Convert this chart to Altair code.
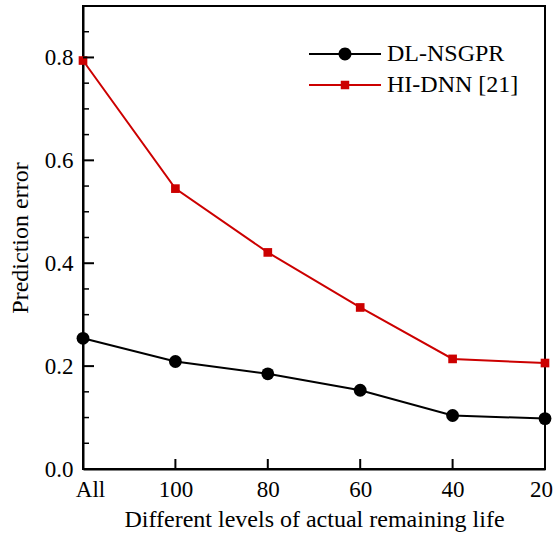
import altair as alt
import pandas as pd

levels = ["All", "100", "80", "60", "40", "20"]
series_names = ["DL-NSGPR", "HI-DNN [21]"]
dl_nsgpr = [0.254, 0.209, 0.185, 0.153, 0.104, 0.098]
hi_dnn = [0.794, 0.545, 0.421, 0.314, 0.214, 0.206]
colors = ["#000000", "#cc0000"]
y_major = [0.0, 0.2, 0.4, 0.6, 0.8]
y_minor = [0.05, 0.1, 0.15, 0.25, 0.3, 0.35, 0.45, 0.5, 0.55, 0.65, 0.7, 0.75, 0.85]

rows = []
for lv, a, b in zip(levels, dl_nsgpr, hi_dnn):
    rows.append({"level": lv, "series": series_names[0], "err": a})
    rows.append({"level": lv, "series": series_names[1], "err": b})
df = pd.DataFrame(rows)

FONT = "Liberation Serif"
FS = 24
LFS = 23
W, H = 462, 463

xscale = alt.Scale(type="point", domain=levels, padding=0)
yscale = alt.Scale(domain=[0, 0.9], nice=False)
cscale = alt.Scale(domain=series_names, range=colors)

x_enc = alt.X("level:N", scale=xscale, sort=levels,
              axis=alt.Axis(title="Different levels of actual remaining life", labelAngle=0,
                            ticks=False, labelPadding=9, titlePadding=6,
                            labelFont=FONT, labelFontSize=LFS, labelColor="black",
                            labelOffset={"expr": "datum.value == 'All' ? 7 : (datum.value == '20' ? -4 : 0)"},
                            titleFont=FONT, titleFontSize=FS,
                            domainColor="black", domainWidth=2, grid=False))
y_enc = alt.Y("err:Q", scale=yscale,
              axis=alt.Axis(title="Prediction error", values=y_major, format=".1f",
                            ticks=False, labelPadding=10, titlePadding=12,
                            labelFont=FONT, labelFontSize=LFS, labelColor="black",
                            titleFont=FONT, titleFontSize=FS,
                            domainColor="black", domainWidth=2, grid=False))

base = alt.Chart(df)

lines = base.mark_line(strokeWidth=2).encode(
    x=x_enc, y=y_enc,
    color=alt.Color("series:N", scale=cscale, legend=None),
    detail="series:N",
)

pts = base.mark_point(filled=True, opacity=1).encode(
    x=alt.X("level:N", scale=xscale, sort=levels),
    y=alt.Y("err:Q", scale=yscale),
    color=alt.Color("series:N", scale=cscale, legend=None),
    shape=alt.Shape("series:N", scale=alt.Scale(domain=series_names, range=["circle", "square"]), legend=None),
    size=alt.Size("series:N", scale=alt.Scale(domain=series_names, range=[165, 75]), legend=None),
)

bar = "M-4,-0.1L4,-0.1L4,0.1L-4,0.1Z"
leg_paths = [
    bar + "M-0.72,0A0.72,0.72 0 1,1 0.72,0A0.72,0.72 0 1,1 -0.72,0Z",
    bar + "M-0.47,-0.47L0.47,-0.47L0.47,0.47L-0.47,0.47Z",
]
legend_y = [36, 67]


def legend_layer(i):
    name = series_names[i]
    leg = alt.Legend(title=None, orient="none", legendX=250, legendY=legend_y[i],
                     labelFont=FONT, labelFontSize=FS, labelColor="black",
                     symbolSize=324, symbolStrokeWidth=0, labelOffset=30,
                     symbolFillColor=colors[i], symbolOpacity=1)
    return base.transform_filter(alt.datum.series == name).mark_point(
        filled=True, opacity=0, size=324, color=colors[i], fill=colors[i], strokeWidth=0).encode(
        x=alt.X("level:N", scale=xscale, sort=levels),
        y=alt.Y("err:Q", scale=yscale),
        shape=alt.Shape("series:N", scale=alt.Scale(domain=[name], range=[leg_paths[i]]), legend=leg),
    )


ymaj = pd.DataFrame({"v": y_major})
ymin = pd.DataFrame({"v": y_minor})
yt_major = alt.Chart(ymaj).mark_rule(color="black", strokeWidth=2).encode(
    y=alt.Y("v:Q", scale=yscale), x=alt.value(0), x2=alt.value(11))
yt_minor = alt.Chart(ymin).mark_rule(color="black", strokeWidth=1.5).encode(
    y=alt.Y("v:Q", scale=yscale), x=alt.value(0), x2=alt.value(6))
xt = alt.Chart(pd.DataFrame({"level": levels[1:-1]})).mark_rule(color="black", strokeWidth=2).encode(
    x=alt.X("level:N", scale=xscale, sort=levels), y=alt.value(H), y2=alt.value(H - 10))

chart = alt.layer(lines, pts, legend_layer(0), legend_layer(1), yt_major, yt_minor, xt).resolve_scale(
    shape="independent"
).resolve_legend(
    shape="independent"
).properties(
    width=W, height=H,
    autosize=alt.AutoSizeParams(type="none"),
    padding={"left": 83, "top": 6, "right": 10, "bottom": 65},
    background="white",
).configure_view(
    stroke="black", strokeWidth=2
).configure_axis(
    labelFont=FONT, labelFontSize=LFS, labelColor="black",
    titleFont=FONT, titleFontSize=FS, titleColor="black", titleFontWeight="normal",
)

chart.save("out.html", embed_options={"renderer": "svg", "actions": False})
